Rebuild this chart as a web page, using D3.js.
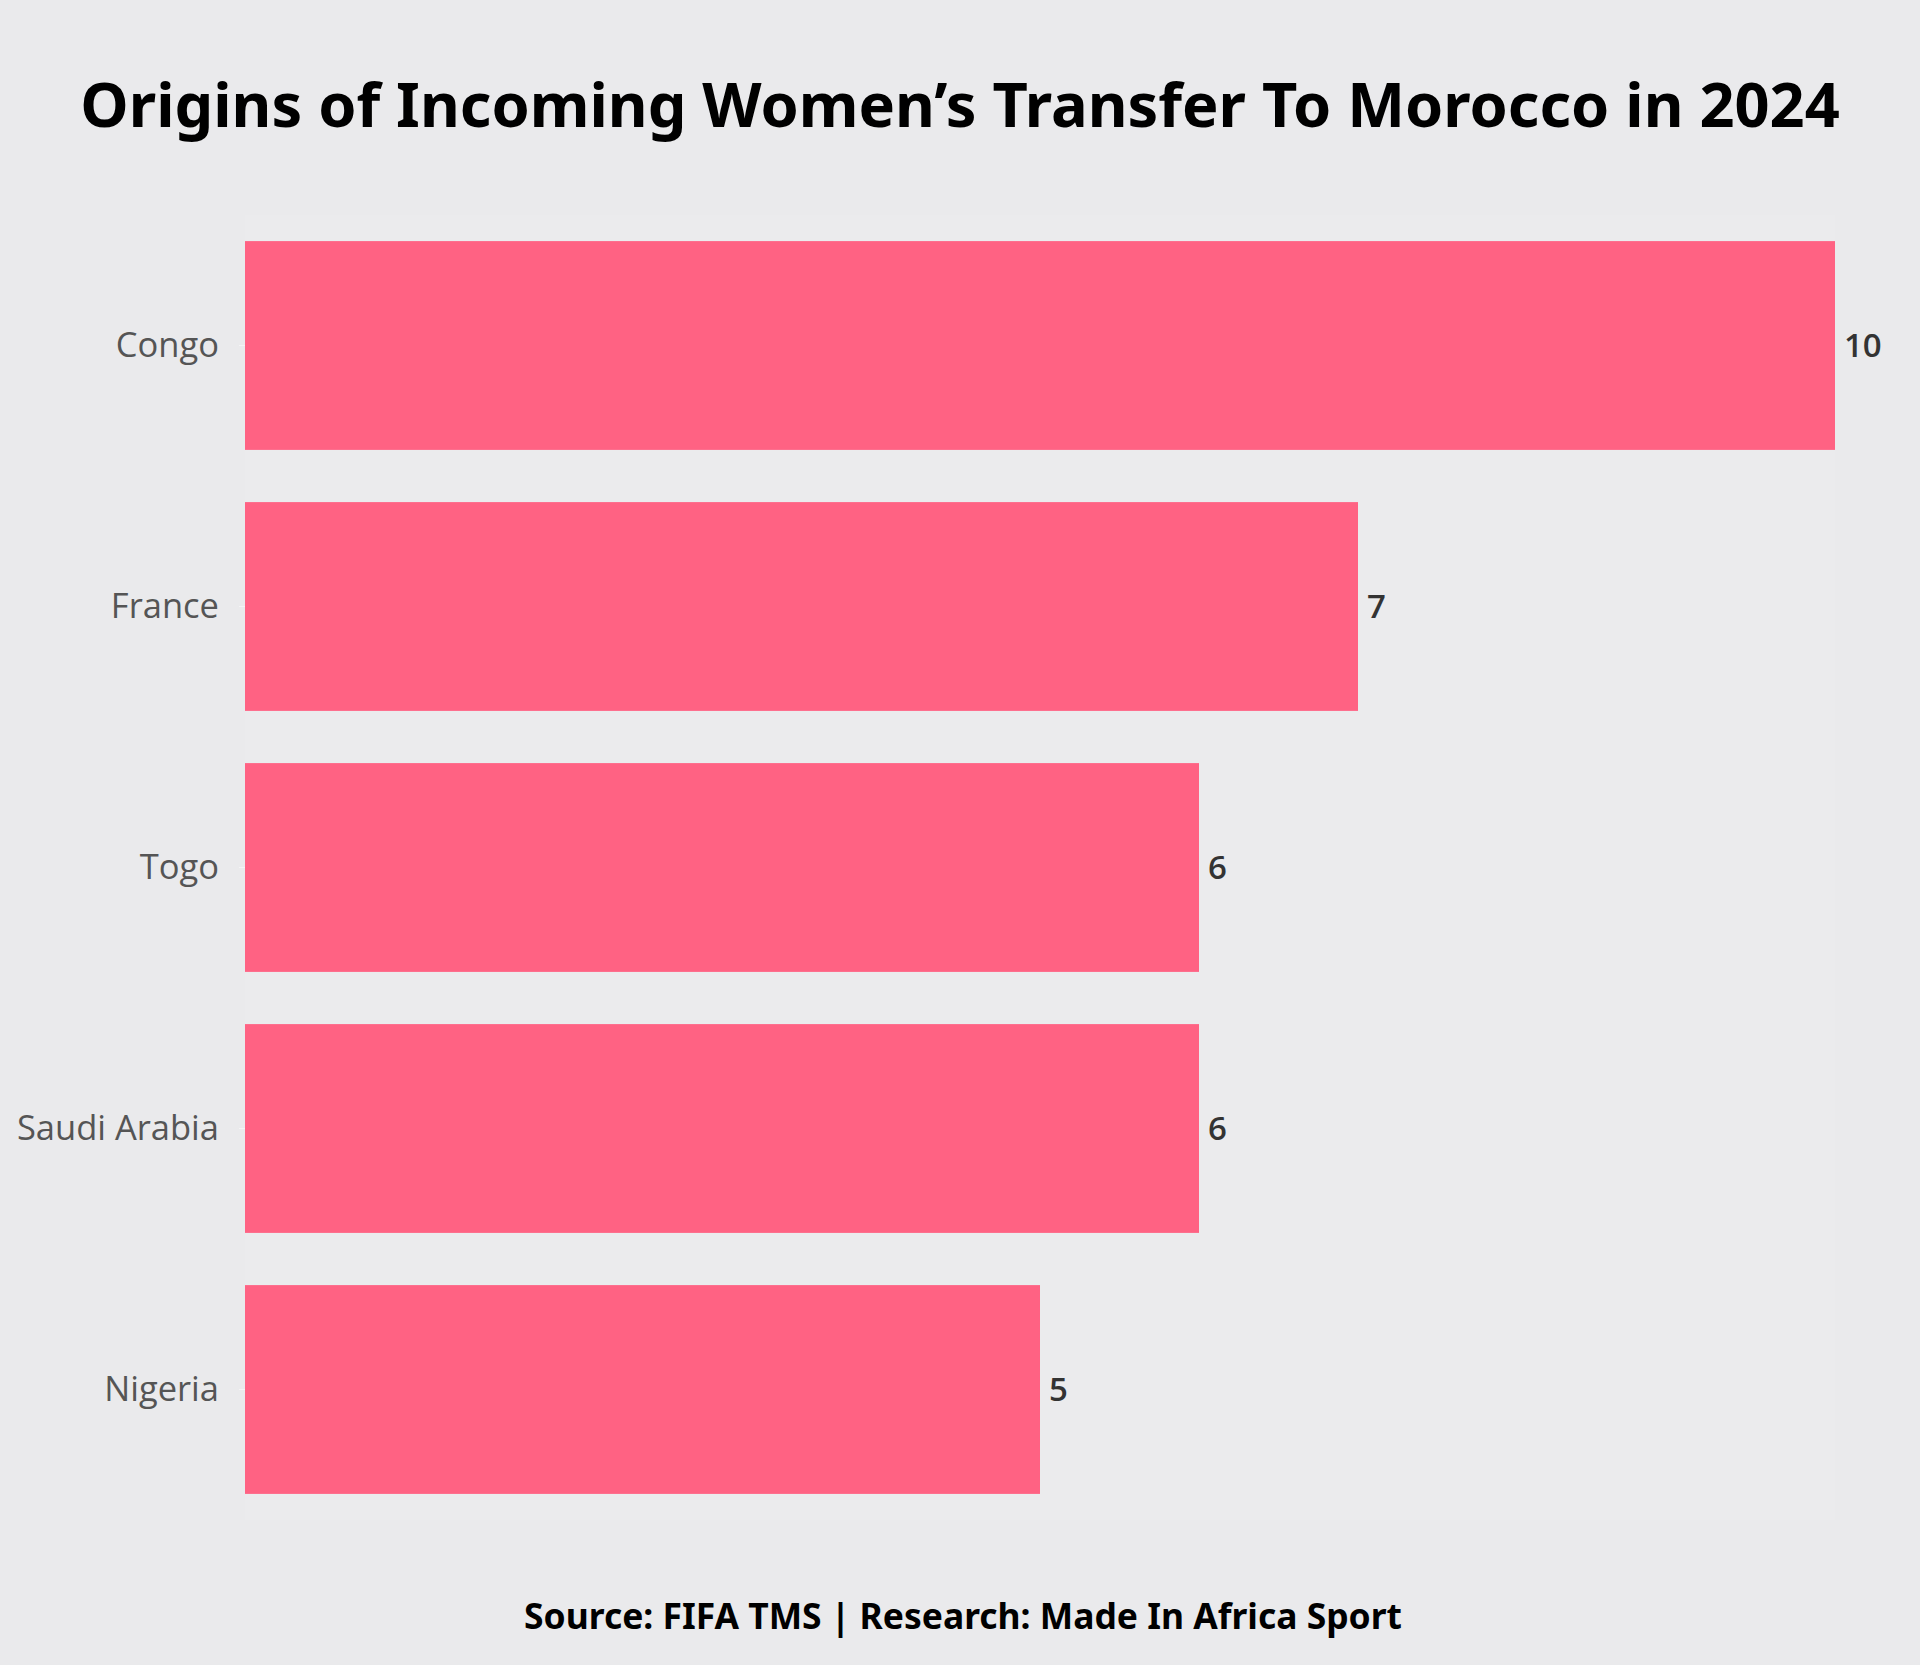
<!DOCTYPE html>
<html>
<head>
<meta charset="utf-8">
<script src="https://cdn.jsdelivr.net/npm/d3@7"></script>
<style>
  body { margin: 0; background: #eaeaec; }
  svg { display: block; }
</style>
</head>
<body>
<div id="body"></div>
<script>
// data
const countries = ["Congo", "France", "Togo", "Saudi Arabia", "Nigeria"];
const transfers = [10, 7, 6, 6, 5];
const xDomain = [0, 10];

const titleText = "Origins of Incoming Women\u2019s Transfer To Morocco in 2024";
const sourceText = "Source: FIFA TMS | Research: Made In Africa Sport";

const W = 1920, H = 1665;
const margin = {top: 215, right: 85, bottom: 145, left: 245};
var width = W - margin.left - margin.right,
    height = H - margin.top - margin.bottom;

var svg = d3.select("#body").append("svg")
    .attr("width", W).attr("height", H)
    .style("background", "#eaeaec");

// title, fitted to the width in the reference
var title = svg.append("text")
    .attr("x", W / 2).attr("y", 127)
    .attr("text-anchor", "middle")
    .style("font-family", "'Noto Sans', sans-serif")
    .style("font-weight", 700)
    .style("font-size", "62px")
    .style("fill", "#000")
    .text(titleText);
var tw = title.node().getComputedTextLength();
title.style("font-size", (62 * 1760 / tw) + "px");

var g = svg.append("g")
    .attr("transform", "translate(" + margin.left + "," + margin.top + ")");

var x = d3.scaleLinear().domain(xDomain).range([0, width]);
var y = d3.scaleBand().domain(countries).range([0, height])
    .paddingInner(0.2).paddingOuter(0.1);

// faint panel behind the bars
g.append("rect")
    .attr("x", 0).attr("y", 0)
    .attr("width", width).attr("height", height)
    .attr("fill", "#ebebed");

g.selectAll(".bar").data(countries).enter().append("rect")
    .attr("class", "bar")
    .attr("x", x(0))
    .attr("y", d => y(d))
    .attr("width", (d, i) => x(transfers[i]) - x(0))
    .attr("height", y.bandwidth())
    .attr("fill", "#ff6283");

// y axis: labels only, with tiny faint ticks
var yAxis = g.append("g").attr("class", "y axis")
    .call(d3.axisLeft(y).tickSize(6).tickPadding(20));
yAxis.select(".domain").remove();
yAxis.selectAll(".tick line").attr("stroke", "#f4f4f5");
yAxis.selectAll(".tick text")
    .style("font-family", "'Open Sans', sans-serif")
    .style("font-size", "34.5px")
    .style("fill", "#555");

g.selectAll(".value").data(countries).enter().append("text")
    .attr("class", "value")
    .attr("x", (d, i) => x(transfers[i]) + 9)
    .attr("y", d => y(d) + y.bandwidth() / 2)
    .attr("dy", "0.36em")
    .style("font-family", "'Open Sans', sans-serif")
    .style("font-weight", 600)
    .style("font-size", "33px")
    .style("fill", "#333")
    .text((d, i) => transfers[i]);

var source = svg.append("text")
    .attr("x", 963).attr("y", 1629)
    .attr("text-anchor", "middle")
    .style("font-family", "'Noto Sans', sans-serif")
    .style("font-weight", 700)
    .style("font-size", "33px")
    .style("fill", "#000")
    .text(sourceText);
var sw = source.node().getComputedTextLength();
source.style("font-size", (33 * 878 / sw) + "px");
</script>
</body>
</html>
